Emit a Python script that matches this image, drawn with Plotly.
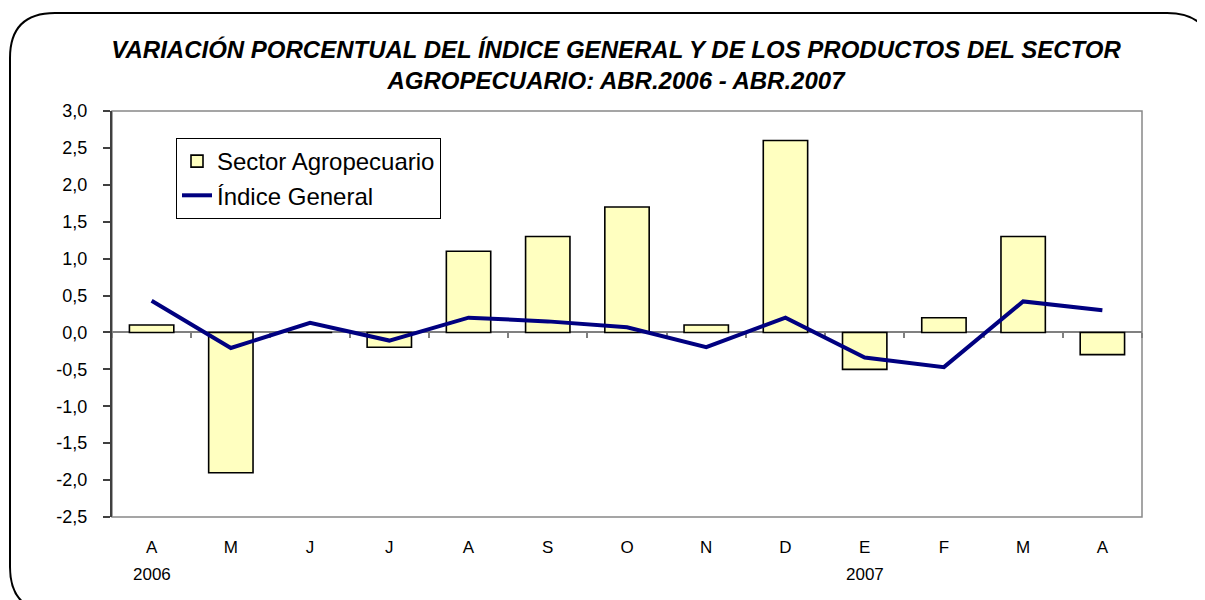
import plotly.graph_objects as go

months = ["A", "M", "J", "J", "A", "S", "O", "N", "D", "E", "F", "M", "A"]
years = {0: "2006", 9: "2007"}
sector_agro = [0.1, -1.9, 0.0, -0.2, 1.1, 1.3, 1.7, 0.1, 2.6, -0.5, 0.2, 1.3, -0.3]
indice_general = [0.43, -0.21, 0.13, -0.11, 0.20, 0.15, 0.07, -0.20, 0.20, -0.34, -0.47, 0.42, 0.30]
y_ticks = [3.0, 2.5, 2.0, 1.5, 1.0, 0.5, 0.0, -0.5, -1.0, -1.5, -2.0, -2.5]
y_ticktext = [f"{v:.1f}".replace(".", ",") for v in y_ticks]

OFF = 8  # page body margin
W, H = 1205 - OFF, 600 - OFF
ML, MR, MT, MB = 112 - OFF, 63, 111 - OFF, 83
PW, PH = W - ML - MR, H - MT - MB
YMIN, YMAX = -2.5, 3.0
x_idx = list(range(len(months)))

def px(x):
    return (x - OFF - ML) / PW

def py(y):
    return (H - MB - (y - OFF)) / PH

FONT = "Arial, Liberation Sans, sans-serif"

fig = go.Figure()
fig.add_trace(go.Bar(
    x=x_idx, y=sector_agro, name="Sector Agropecuario", width=0.56,
    marker=dict(color="#FFFFC0", line=dict(color="#000000", width=1.6)),
    legendgroup="a",
))
fig.add_trace(go.Scatter(
    x=x_idx, y=indice_general, name="Índice General", mode="lines",
    line=dict(color="#000080", width=4), legendgroup="b",
))
fig.add_trace(go.Scatter(x=[], y=[], xaxis="x2", showlegend=False, hoverinfo="skip"))

zero_pos = (0 - YMIN) / (YMAX - YMIN)

# outer rounded frame (reference pixel coords)
L, T, R, B, r = 10, 13, 1212, 612, 45
path = (f"M {px(L+r)},{py(T)} L {px(R-r)},{py(T)} Q {px(R)},{py(T)} {px(R)},{py(T+r)} "
        f"L {px(R)},{py(B-r)} Q {px(R)},{py(B)} {px(R-r)},{py(B)} "
        f"L {px(L+r)},{py(B)} Q {px(L)},{py(B)} {px(L)},{py(B-r)} "
        f"L {px(L)},{py(T+r)} Q {px(L)},{py(T)} {px(L+r)},{py(T)} Z")

shapes = [
    dict(type="path", path=path, xref="paper", yref="paper",
         line=dict(color="#000000", width=2)),
    dict(type="rect", xref="paper", yref="paper", x0=0, x1=1, y0=0, y1=1,
         line=dict(color="#888888", width=1.5), layer="below"),
]

annotations = [
    dict(x=i, y=py(574), xref="x", yref="paper", text=t, showarrow=False,
         font=dict(family=FONT, size=17, color="#000000"), yanchor="middle")
    for i, t in years.items()
]

fig.update_layout(
    width=W, height=H,
    margin=dict(l=ML, r=MR, t=MT, b=MB, autoexpand=False),
    paper_bgcolor="white", plot_bgcolor="white",
    title=dict(
        text="VARIACIÓN PORCENTUAL DEL ÍNDICE GENERAL Y DE LOS PRODUCTOS DEL SECTOR<br>AGROPECUARIO: ABR.2006 - ABR.2007",
        x=px(616), xanchor="center", xref="paper",
        y=1 - 50 / H, yanchor="top", yref="container",
        font=dict(family=FONT, size=24, color="#000000", style="italic", weight="bold"),
    ),
    showlegend=True,
    legend=dict(
        x=px(176), y=py(138), xanchor="left", yanchor="top",
        bgcolor="white", bordercolor="#000000", borderwidth=1,
        font=dict(family=FONT, size=24, color="#000000"),
        traceorder="grouped", tracegroupgap=0,
    ),
    xaxis=dict(
        range=[-0.5, len(months) - 0.5], tickmode="array", tickvals=x_idx, ticktext=months,
        showline=False, showgrid=False, zeroline=False, ticks="",
        tickfont=dict(family=FONT, size=17, color="#000000"), ticklabelstandoff=18,
    ),
    xaxis2=dict(
        overlaying="x", anchor="free", position=zero_pos, side="bottom",
        range=[-0.5, len(months) - 0.5], tickmode="array",
        tickvals=[i - 0.5 for i in range(len(months) + 1)],
        showticklabels=False, ticks="outside", ticklen=5, tickwidth=1.5, tickcolor="#808080",
        showline=True, linecolor="#808080", linewidth=2, showgrid=False, zeroline=False,
        layer="below traces",
    ),
    yaxis=dict(
        range=[YMIN, YMAX], tickmode="array", tickvals=y_ticks, ticktext=y_ticktext,
        showline=True, linecolor="#404040", linewidth=2,
        ticks="outside", ticklen=7, tickwidth=1.5, tickcolor="#404040",
        showgrid=False, zeroline=False,
        tickfont=dict(family=FONT, size=18, color="#000000"), ticklabelstandoff=12,
    ),
    shapes=shapes,
    annotations=annotations,
    bargap=0.44,
)

fig.write_html("out.html")
